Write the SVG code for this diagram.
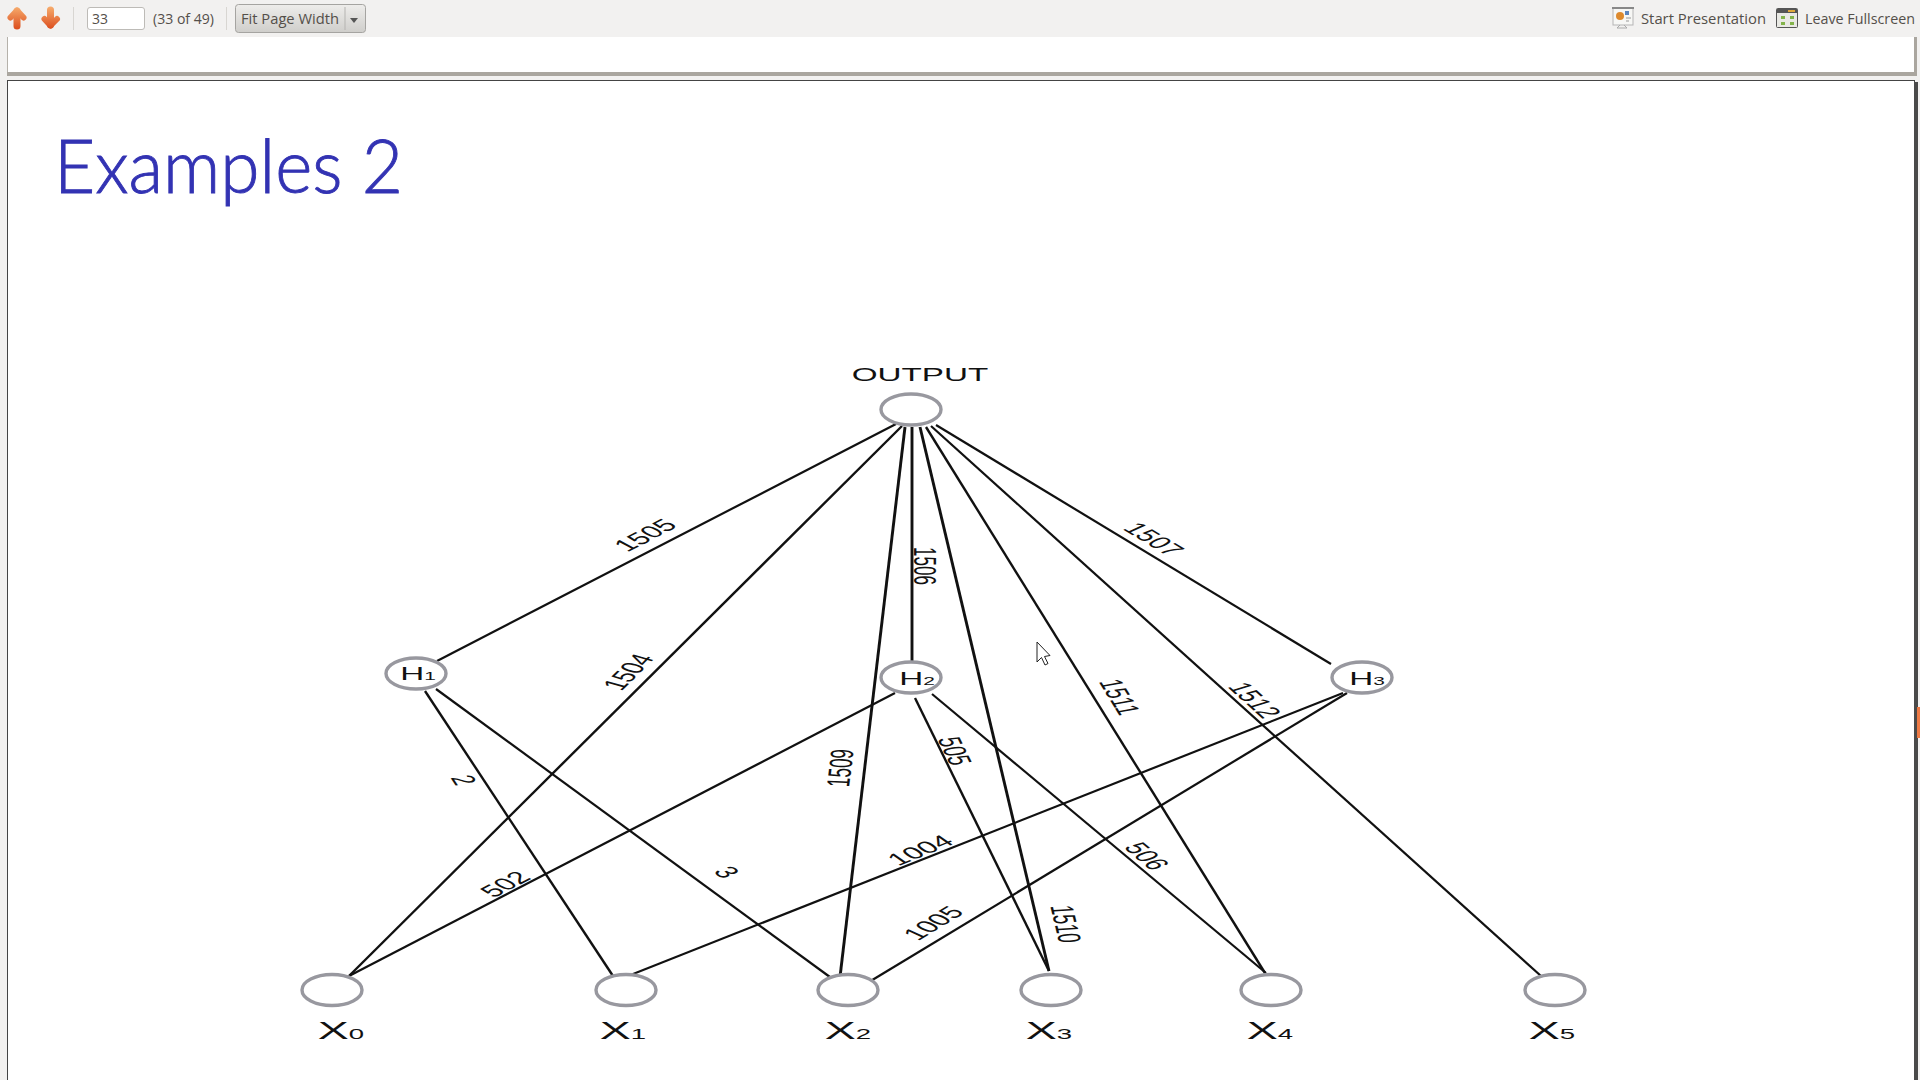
<svg xmlns="http://www.w3.org/2000/svg" width="1920" height="1080" viewBox="0 0 1920 1080">
<style>
.ui{font-family:"Open Sans","Noto Sans",sans-serif;font-size:14px;fill:#544f4a}
.lb{font-family:"Liberation Sans",Arial,sans-serif;font-size:17px;fill:#111;text-anchor:middle}
.nm{font-family:"Liberation Sans",Arial,sans-serif;fill:#111;text-anchor:middle}
.e{fill:#fff;stroke:#98989f;stroke-width:3.4}
#connectors line{stroke:#111;stroke-width:2.2;stroke-linecap:butt}
#connectors line.m{stroke-width:2.4}
#connectors line.t{stroke-width:2.9}
.arr{fill:none;stroke-linecap:round;stroke-linejoin:round}
</style>
<defs>
<linearGradient id="btn" x1="0" y1="0" x2="0" y2="1"><stop offset="0" stop-color="#eeedeb"/><stop offset="1" stop-color="#cfcecb"/></linearGradient>
<linearGradient id="ora" gradientUnits="userSpaceOnUse" x1="0" y1="7" x2="0" y2="29"><stop offset="0" stop-color="#f6ab6c"/><stop offset="1" stop-color="#dc4e1e"/></linearGradient>
</defs>
<rect width="1920" height="1080" fill="#f2f1f0"/>
<rect x="7" y="37" width="1908" height="35" fill="#fff"/>
<path d="M7.5 37V72.500" stroke="#b5b1aa" fill="none"/>
<rect x="7" y="72" width="1908" height="4" fill="#aaa69f"/>
<rect x="1914" y="37" width="3" height="39" fill="#aaa69f"/>
<rect x="7.500" y="80.500" width="1907" height="1010" fill="#fff" stroke="#444"/>
<rect x="1914" y="82" width="4" height="998" fill="#4a4a4a"/>
<rect x="1917" y="707" width="3" height="31" fill="#ee7a45"/>
<g id="toolbar">
<g class="arr" stroke="url(#ora)"><path d="M17 11V26" stroke-width="7"/><path d="M10.500 17.500L17 10.500L23.500 17.500" stroke-width="6"/><path d="M50.500 10V25" stroke-width="7"/><path d="M44.500 19L50.500 25.500L57 19" stroke-width="6"/></g>
<path d="M73.500 7V30M226.500 7V30" stroke="#d8d6d2"/>
<rect x="87.500" y="7.500" width="57" height="22" rx="2.500" fill="#fff" stroke="#bdbbb7"/>
<text class="ui" x="92" y="24">33</text>
<text class="ui" x="153" y="24" textLength="61" lengthAdjust="spacingAndGlyphs">(33 of 49)</text>
<rect x="235.500" y="4.500" width="130" height="28" rx="3" fill="url(#btn)" stroke="#a5a4a1"/>
<text class="ui" x="241" y="24" textLength="98" lengthAdjust="spacingAndGlyphs">Fit Page Width</text>
<path d="M345 7V30" stroke="#b5b4b1"/>
<path d="M350 18H358L354 23Z" fill="#555"/>
<g id="presentation-icon">
<rect x="1613" y="8" width="20" height="17" fill="#f7f7f5" stroke="#b5b5b5"/>
<rect x="1612" y="7" width="22" height="2" fill="#888"/>
<circle cx="1620" cy="16" r="4" fill="#dd8a2e"/>
<rect x="1625" y="11" width="4" height="4" fill="#5b86c0"/>
<path d="M1626 18h5M1626 21h3" stroke="#999"/>
<path d="M1620 25L1617 28H1627L1624 25" fill="none" stroke="#aaa"/>
</g>
<text class="ui" x="1641" y="24" textLength="125" lengthAdjust="spacingAndGlyphs">Start Presentation</text>
<g id="fullscreen-icon">
<rect x="1776.500" y="8.500" width="21" height="19" rx="1" fill="#e9e9e4" stroke="#555"/>
<rect x="1777" y="9" width="20" height="4" fill="#555"/>
<path d="M1788 10h7v2h-7z" fill="#e0a93a"/>
<path d="M1781 16h4v3h-4zM1790 16h4v3h-4zM1781 22h4v3h-4zM1790 22h4v3h-4z" fill="#83b34a"/>
</g>
<text class="ui" x="1805" y="24" textLength="110" lengthAdjust="spacingAndGlyphs">Leave Fullscreen</text>
</g>
<text x="54" y="193" font-family="Lato,'Open Sans',sans-serif" font-weight="300" font-size="74" fill="#3333b3" stroke="#3333b3" stroke-width=".9" textLength="349" lengthAdjust="spacingAndGlyphs">Examples 2</text>
<g id="connectors">
<line x1="896" y1="424" x2="437" y2="661"/>
<line class="m" x1="902" y1="426" x2="349" y2="976"/>
<line class="t" x1="905" y1="427" x2="840" y2="977"/>
<line class="t" x1="912" y1="427" x2="912" y2="661"/>
<line class="t" x1="920" y1="427" x2="1049" y2="971"/>
<line class="m" x1="926" y1="427" x2="1265" y2="973"/>
<line x1="931" y1="426" x2="1541" y2="976"/>
<line x1="936" y1="425" x2="1331" y2="664"/>
<line class="m" x1="425" y1="691" x2="613" y2="976"/>
<line x1="436" y1="689" x2="834" y2="980"/>
<line x1="895" y1="693" x2="349" y2="976"/>
<line class="m" x1="915" y1="698" x2="1049" y2="971"/>
<line x1="932" y1="694" x2="1266" y2="973"/>
<line x1="1343" y1="693" x2="628" y2="976"/>
<line x1="1347" y1="693" x2="869" y2="982"/>
</g>
<g id="edge-labels">
<text class="lb" y="6" transform="translate(645 535) scale(1.9 1) rotate(-44.400)">1505</text>
<text class="lb" y="6" transform="translate(628 672) scale(1.9 1) rotate(-62)">1504</text>
<text class="lb" y="6" transform="translate(925 566) scale(1.9 1) rotate(90)">1506</text>
<text class="lb" y="6" transform="translate(1154 539) scale(1.9 1) rotate(49)">1507</text>
<text class="lb" y="6" transform="translate(840 768) scale(1.9 1) rotate(-86.400)">1509</text>
<text class="lb" y="6" transform="translate(1120 697) scale(1.9 1) rotate(71.900)">1511</text>
<text class="lb" y="6" transform="translate(1255 700) scale(1.9 1) rotate(59.800)">1512</text>
<text class="lb" y="6" transform="translate(955 751) scale(1.9 1) rotate(75.500)">505</text>
<text class="lb" y="6" transform="translate(1147 856) scale(1.9 1) rotate(57.800)">506</text>
<text class="lb" y="6" transform="translate(464 780) scale(1.9 1) rotate(70.900)">2</text>
<text class="lb" y="6" transform="translate(727 872) scale(1.9 1) rotate(54.200)">3</text>
<text class="lb" y="6" transform="translate(505 884) scale(1.9 1) rotate(-44.600)">502</text>
<text class="lb" y="6" transform="translate(920 850) scale(1.9 1) rotate(-36.900)">1004</text>
<text class="lb" y="6" transform="translate(933 923) scale(1.9 1) rotate(-49)">1005</text>
<text class="lb" y="6" transform="translate(1066 924) scale(1.9 1) rotate(82.900)">1510</text>
</g>
<g id="output"><ellipse class="e" cx="911" cy="409.500" rx="30" ry="15.500"/><text class="nm" font-size="17.500" transform="translate(920 381) scale(1.9 1)">OUTPUT</text></g>
<g id="h1"><ellipse class="e" cx="416" cy="673.500" rx="30" ry="15.500"/><text class="nm" font-size="17.500" transform="translate(418 680) scale(1.9 1)">H<tspan font-size="11">1</tspan></text></g>
<g id="h2"><ellipse class="e" cx="911" cy="677.500" rx="30" ry="15.500"/><text class="nm" font-size="17.500" transform="translate(917 685) scale(1.9 1)">H<tspan font-size="11">2</tspan></text></g>
<g id="h3"><ellipse class="e" cx="1362" cy="677.500" rx="30" ry="15.500"/><text class="nm" font-size="17.500" transform="translate(1367 685) scale(1.9 1)">H<tspan font-size="11">3</tspan></text></g>
<g id="x0"><ellipse class="e" cx="332" cy="990" rx="30" ry="15.500"/><text class="nm" font-size="24.500" transform="translate(341 1039) scale(1.9 1)">X<tspan font-size="14.500">0</tspan></text></g>
<g id="x1"><ellipse class="e" cx="626" cy="990" rx="30" ry="15.500"/><text class="nm" font-size="24.500" transform="translate(623 1039) scale(1.9 1)">X<tspan font-size="14.500">1</tspan></text></g>
<g id="x2"><ellipse class="e" cx="848" cy="990" rx="30" ry="15.500"/><text class="nm" font-size="24.500" transform="translate(848 1039) scale(1.9 1)">X<tspan font-size="14.500">2</tspan></text></g>
<g id="x3"><ellipse class="e" cx="1051" cy="990" rx="30" ry="15.500"/><text class="nm" font-size="24.500" transform="translate(1049 1039) scale(1.9 1)">X<tspan font-size="14.500">3</tspan></text></g>
<g id="x4"><ellipse class="e" cx="1271" cy="990" rx="30" ry="15.500"/><text class="nm" font-size="24.500" transform="translate(1270 1039) scale(1.9 1)">X<tspan font-size="14.500">4</tspan></text></g>
<g id="x5"><ellipse class="e" cx="1555" cy="990" rx="30" ry="15.500"/><text class="nm" font-size="24.500" transform="translate(1552 1039) scale(1.9 1)">X<tspan font-size="14.500">5</tspan></text></g>
<path id="cursor" d="M1037 642V662L1041.500 657.500L1045 665L1048 663.500L1044.500 656.500L1050 655.500Z" fill="#fff" stroke="#222" stroke-width="1"/>
</svg>
